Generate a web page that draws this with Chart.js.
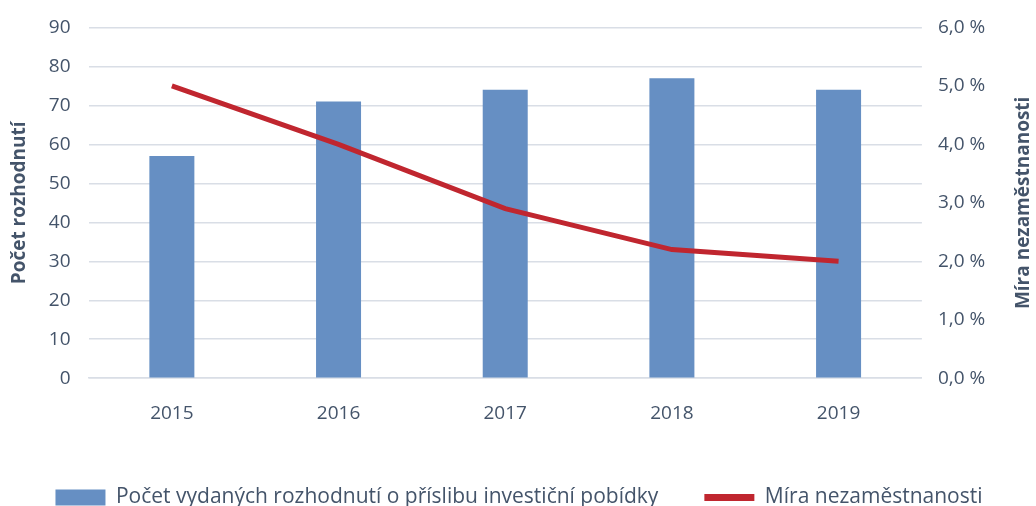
<!DOCTYPE html>
<html>
<head>
<meta charset="utf-8">
<script src="https://cdn.jsdelivr.net/npm/chart.js@4/dist/chart.umd.min.js"></script>
<style>
  html, body { margin: 0; padding: 0; background: #fff; overflow: hidden; }
  #wrap { width: 1036px; height: 518px; }
</style>
</head>
<body>
<div id="wrap"><canvas id="combo_canvas"></canvas></div>
<script>
var years = ["2015", "2016", "2017", "2018", "2019"];
var rozhodnuti = [57, 71, 74, 77, 74];
var nezamestnanost = [5.0, 4.0, 2.9, 2.2, 2.0];

var textColor = "#44546a";
var gridColor = "#d9dee6";
var font = "'Open Sans', sans-serif";

// right axis title reads bottom-to-top, chart.js rotates it the other way
var rightTitle = {
    id: "rightTitle",
    afterDraw: function(chart) {
        var sc = chart.scales.y1;
        var c = chart.ctx;
        c.save();
        c.translate(sc.right - 6, (chart.chartArea.top + chart.chartArea.bottom) / 2);
        c.rotate(-Math.PI / 2);
        c.textAlign = "center";
        c.textBaseline = "middle";
        c.fillStyle = textColor;
        c.font = "bold 19px " + font;
        c.fillText("Míra nezaměstnanosti", 0, 0);
        c.restore();
    }
};

var chartdata = {
    labels: years,
    datasets: [
        {
            type: "line",
            label: "Míra nezaměstnanosti",
            data: nezamestnanost,
            yAxisID: "y1",
            borderColor: "#c0262f",
            backgroundColor: "#c0262f",
            borderWidth: 5,
            pointRadius: 0,
            tension: 0,
            order: 0
        },
        {
            type: "bar",
            label: "Počet vydaných rozhodnutí o příslibu investiční pobídky",
            data: rozhodnuti,
            yAxisID: "y",
            backgroundColor: "#668fc3",
            categoryPercentage: 1,
            barPercentage: 0.27,
            order: 1
        }
    ]
};

var options = {
    responsive: true,
    maintainAspectRatio: false,
    animation: false,
    layout: { padding: { left: 8, right: 6, top: -6, bottom: 0 } },
    plugins: {
        legend: {
            position: "bottom",
            reverse: true,
            labels: {
                color: textColor,
                font: { family: font, size: 21 },
                usePointStyle: true,
                pointStyleWidth: 50,
                boxHeight: 16,
                padding: 46,
                generateLabels: function(chart) {
                    var items = Chart.defaults.plugins.legend.labels.generateLabels(chart);
                    items.forEach(function(it) {
                        var ds = chart.data.datasets[it.datasetIndex];
                        if (ds.type === "line") {
                            it.pointStyle = "line";
                            it.lineWidth = 7;
                            it.strokeStyle = ds.borderColor;
                        } else {
                            it.pointStyle = "rect";
                            it.lineWidth = 0;
                        }
                    });
                    return items;
                }
            }
        },
        tooltip: { enabled: false }
    },
    scales: {
        x: {
            grid: { display: false },
            border: { color: gridColor, width: 1.5 },
            ticks: { color: textColor, font: { family: font, size: 19 }, padding: 16 }
        },
        y: {
            position: "left",
            min: 0,
            max: 90,
            ticks: { stepSize: 10, color: textColor, font: { family: font, size: 19, lineHeight: 1 }, padding: 18 },
            grid: { color: gridColor, lineWidth: 1.5, drawTicks: false },
            border: { display: false },
            title: {
                display: true,
                text: "Počet rozhodnutí",
                color: textColor,
                font: { family: font, size: 19, weight: "bold" },
                padding: 0
            }
        },
        y1: {
            position: "right",
            min: 0,
            max: 6,
            ticks: {
                stepSize: 1,
                color: textColor,
                font: { family: font, size: 19, lineHeight: 1 },
                padding: 16,
                callback: function(v) { return v.toFixed(1).replace(".", ",") + " %"; }
            },
            grid: { display: false, drawTicks: false },
            border: { display: false },
            title: {
                display: true,
                text: "Míra nezaměstnanosti",
                color: "rgba(0,0,0,0)",
                font: { family: font, size: 19, weight: "bold" },
                padding: { top: 6, bottom: 0 }
            }
        }
    }
};

var ctx1 = document.getElementById("combo_canvas");
var chart = new Chart(ctx1, { data: chartdata, options: options, plugins: [rightTitle] });
</script>
</body>
</html>
